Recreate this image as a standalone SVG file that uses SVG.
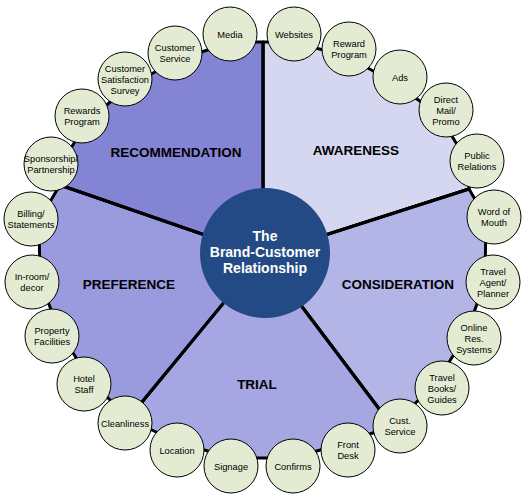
<svg xmlns="http://www.w3.org/2000/svg" width="528" height="502" viewBox="0 0 528 502">
<style>
.sec{stroke:#000;stroke-width:3;stroke-linejoin:round}
.div{stroke:#000;stroke-width:3;fill:none}
.bub{fill:#e3ecd3;stroke:#000;stroke-width:1}
.bt{font-family:"Liberation Sans",Arial,sans-serif;font-size:9.3px;fill:#000;text-anchor:middle}
.st{font-family:"Liberation Sans",Arial,sans-serif;font-size:13.5px;font-weight:bold;fill:#000;text-anchor:middle}
.ct{font-family:"Liberation Sans",Arial,sans-serif;font-size:14px;font-weight:bold;fill:#fff;text-anchor:middle}
</style>
<rect width="528" height="502" fill="#fff"/>
<g id="sectors">
<polygon id="awareness" class="sec" fill="#d5d7f1" points="263,255 263,42 293,42 346,56 395,83 439,115 469,164 469,189"/>
<polygon id="consideration" class="sec" fill="#b3b5e7" points="263,255 469,189 486,218 485,281 466,335 436,383 392,426"/>
<polygon id="trial" class="sec" fill="#a6a7e2" points="263,255 392,426 345,443 292,458 232,458 180,443 128,419"/>
<polygon id="preference" class="sec" fill="#9a9bdf" points="263,255 128,419 90,379 60,333 40,281 39,220 60,185"/>
<polygon id="recommendation" class="sec" fill="#8384d3" points="263,255 60,185 59,167 88,121 130,85 178,60 231,42 263,42"/>
</g>
<g id="connectors">
<line class="div" x1="263" y1="255" x2="263" y2="42"/>
<line class="div" x1="263" y1="255" x2="469" y2="189"/>
<line class="div" x1="263" y1="255" x2="392" y2="426"/>
<line class="div" x1="263" y1="255" x2="128" y2="419"/>
<line class="div" x1="263" y1="255" x2="60" y2="185"/>
</g>
<g id="sector-labels">
<text class="st" x="356" y="155">AWARENESS</text>
<text class="st" x="398" y="289">CONSIDERATION</text>
<text class="st" x="257" y="389">TRIAL</text>
<text class="st" x="129" y="289">PREFERENCE</text>
<text class="st" x="176" y="157">RECOMMENDATION</text>
</g>
<g id="center">
<circle cx="265" cy="253" r="65" fill="#244a86"/>
<text class="ct" x="265" y="241">The</text>
<text class="ct" x="265" y="257">Brand-Customer</text>
<text class="ct" x="265" y="273">Relationship</text>
</g>
<g id="n-websites"><circle class="bub" cx="294" cy="34" r="27"/><text class="bt" x="294" y="37.5">Websites</text></g>
<g id="n-reward-program"><circle class="bub" cx="349" cy="49" r="27"/><text class="bt" x="349" y="47">Reward</text><text class="bt" x="349" y="58">Program</text></g>
<g id="n-ads"><circle class="bub" cx="400" cy="77" r="27"/><text class="bt" x="400" y="80.5">Ads</text></g>
<g id="n-direct-mail"><circle class="bub" cx="446" cy="110" r="27"/><text class="bt" x="446" y="102.5">Direct</text><text class="bt" x="446" y="113.5">Mail/</text><text class="bt" x="446" y="124.5">Promo</text></g>
<g id="n-public-relations"><circle class="bub" cx="477" cy="161" r="27"/><text class="bt" x="477" y="159">Public</text><text class="bt" x="477" y="170">Relations</text></g>
<g id="n-word-of-mouth"><circle class="bub" cx="494" cy="217" r="27"/><text class="bt" x="494" y="215">Word of</text><text class="bt" x="494" y="226">Mouth</text></g>
<g id="n-travel-agent"><circle class="bub" cx="493" cy="282" r="27"/><text class="bt" x="493" y="274.5">Travel</text><text class="bt" x="493" y="285.5">Agent/</text><text class="bt" x="493" y="296.5">Planner</text></g>
<g id="n-online-res"><circle class="bub" cx="474" cy="338" r="27"/><text class="bt" x="474" y="330.5">Online</text><text class="bt" x="474" y="341.5">Res.</text><text class="bt" x="474" y="352.5">Systems</text></g>
<g id="n-travel-books"><circle class="bub" cx="442" cy="388" r="27"/><text class="bt" x="442" y="380.5">Travel</text><text class="bt" x="442" y="391.5">Books/</text><text class="bt" x="442" y="402.5">Guides</text></g>
<g id="n-cust-service"><circle class="bub" cx="400" cy="426" r="27"/><text class="bt" x="400" y="424">Cust.</text><text class="bt" x="400" y="435">Service</text></g>
<g id="n-front-desk"><circle class="bub" cx="348" cy="450" r="27"/><text class="bt" x="348" y="448">Front</text><text class="bt" x="348" y="459">Desk</text></g>
<g id="n-confirms"><circle class="bub" cx="293" cy="466" r="27"/><text class="bt" x="293" y="469.5">Confirms</text></g>
<g id="n-signage"><circle class="bub" cx="231" cy="466" r="27"/><text class="bt" x="231" y="469.5">Signage</text></g>
<g id="n-location"><circle class="bub" cx="177" cy="450" r="27"/><text class="bt" x="177" y="453.5">Location</text></g>
<g id="n-cleanliness"><circle class="bub" cx="125" cy="423" r="27"/><text class="bt" x="125" y="426.5">Cleanliness</text></g>
<g id="n-hotel-staff"><circle class="bub" cx="84" cy="384" r="27"/><text class="bt" x="84" y="382">Hotel</text><text class="bt" x="84" y="393">Staff</text></g>
<g id="n-property"><circle class="bub" cx="52" cy="336" r="27"/><text class="bt" x="52" y="334">Property</text><text class="bt" x="52" y="345">Facilities</text></g>
<g id="n-in-room"><circle class="bub" cx="32" cy="282" r="27"/><text class="bt" x="32" y="280">In-room/</text><text class="bt" x="32" y="291">decor</text></g>
<g id="n-billing"><circle class="bub" cx="31" cy="219" r="27"/><text class="bt" x="31" y="217">Billing/</text><text class="bt" x="31" y="228">Statements</text></g>
<g id="n-sponsorship"><circle class="bub" cx="51" cy="164" r="27"/><text class="bt" x="51" y="162">Sponsorship/</text><text class="bt" x="51" y="173">Partnership</text></g>
<g id="n-rewards-program"><circle class="bub" cx="82" cy="116" r="27"/><text class="bt" x="82" y="114">Rewards</text><text class="bt" x="82" y="125">Program</text></g>
<g id="n-survey"><circle class="bub" cx="125" cy="79" r="27"/><text class="bt" x="125" y="71.5">Customer</text><text class="bt" x="125" y="82.5">Satisfaction</text><text class="bt" x="125" y="93.5">Survey</text></g>
<g id="n-customer-service"><circle class="bub" cx="175" cy="53" r="27"/><text class="bt" x="175" y="51">Customer</text><text class="bt" x="175" y="62">Service</text></g>
<g id="n-media"><circle class="bub" cx="230" cy="34" r="27"/><text class="bt" x="230" y="37.5">Media</text></g>
</svg>
